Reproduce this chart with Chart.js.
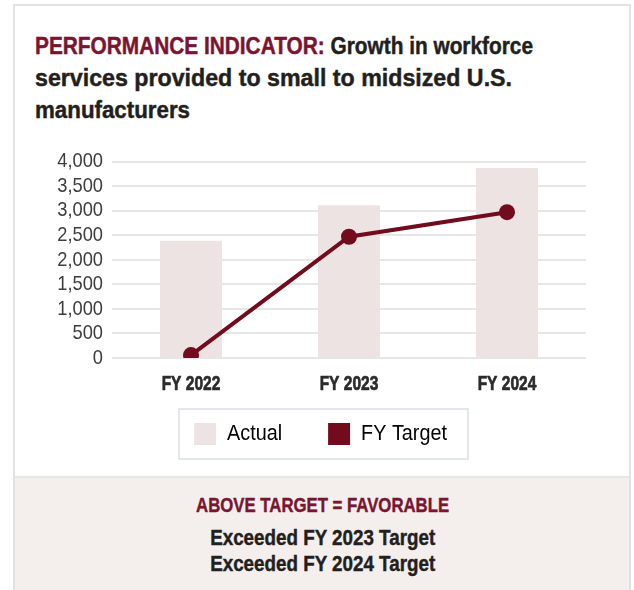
<!DOCTYPE html>
<html>
<head>
<meta charset="utf-8">
<script src="https://cdn.jsdelivr.net/npm/chart.js@4.4.1/dist/chart.umd.min.js"></script>
<style>
  html, body { margin: 0; padding: 0; background: #ffffff; }
  body { width: 634px; height: 590px; position: relative; overflow: hidden;
         font-family: 'Liberation Sans', Arial, sans-serif; }
  #card { position: absolute; left: 13px; top: 4px; width: 614px; height: 600px;
          border: 2px solid #e2e2e2; border-bottom: none; background: #fff; }
  #foot { position: absolute; left: 15px; top: 476px; width: 614px; height: 120px;
          background: #f4efed; border-top: 2px solid #e6e6e6; }
  .t { position: absolute; white-space: nowrap; display: inline-block; font-weight: bold;
       -webkit-text-stroke: 0.45px currentColor; }
  .dark { color: #231f20; }
  .red { color: #7a1530; }
  #wrap { position: absolute; left: 47px; top: 140px; width: 547px; height: 325px; }
</style>
</head>
<body>
<div id="card"></div>
<div id="foot"></div>
<span class="t dark" data-left="35" data-base="55" data-size="23.5" data-w="498"><span class="red">PERFORMANCE INDICATOR:</span> Growth in workforce</span>
<span class="t dark" data-left="35" data-base="87" data-size="23.5" data-w="477">services provided to small to midsized U.S.</span>
<span class="t dark" data-left="35" data-base="119" data-size="23.5" data-w="155">manufacturers</span>
<span class="t red" data-cx="322.5" data-base="512" data-size="21" data-w="253">ABOVE TARGET = FAVORABLE</span>
<span class="t dark" data-cx="322.5" data-base="546" data-size="22" data-w="225">Exceeded FY 2023 Target</span>
<span class="t dark" data-cx="322.5" data-base="572" data-size="22" data-w="225">Exceeded FY 2024 Target</span>
<div id="wrap"><canvas id="c"></canvas></div>
<script>
const categories = ['FY 2022', 'FY 2023', 'FY 2024'];
const actualValues = [2390, 3110, 3870];
const targetValues = [60, 2470, 2970];
const seriesNames = ['Actual', 'FY Target'];
const yTicks = [0, 500, 1000, 1500, 2000, 2500, 3000, 3500, 4000];

const BAR = '#ede3e2';
const MAROON = '#730b1f';
const FONT = "'Liberation Sans', Arial, sans-serif";

// Place HTML text lines by baseline and condense them to the reference width
document.querySelectorAll('.t').forEach(el => {
  const size = parseFloat(el.dataset.size);
  el.style.fontSize = size + 'px';
  el.style.lineHeight = size + 'px';
  el.style.top = (parseFloat(el.dataset.base) - 0.8465 * size) + 'px';
  const natural = el.getBoundingClientRect().width;
  const sx = parseFloat(el.dataset.w) / natural;
  if (el.dataset.left !== undefined) {
    el.style.left = el.dataset.left + 'px';
    el.style.transformOrigin = 'left center';
  } else {
    el.style.left = (parseFloat(el.dataset.cx) - natural / 2) + 'px';
    el.style.transformOrigin = 'center center';
  }
  el.style.transform = 'scaleX(' + sx + ')';
});

// Condensed canvas text (the reference uses a condensed typeface)
const canvas = document.getElementById('c');
const ctx2d = canvas.getContext('2d');
function condense(font) {
  if (/bold|700/.test(font)) return 0.74;
  const m = /([\d.]+)px/.exec(font);
  if (m && parseFloat(m[1]) >= 22) return 0.9;
  return 0.87;
}
const origFill = ctx2d.fillText.bind(ctx2d);
const origStroke = ctx2d.strokeText.bind(ctx2d);
const origMeasure = ctx2d.measureText.bind(ctx2d);
ctx2d.fillText = function (text, x, y, maxWidth) {
  const sx = condense(this.font);
  const bold = /bold|700/.test(this.font);
  this.save();
  this.translate(x, y);
  this.scale(sx, 1);
  if (maxWidth !== undefined) origFill(text, 0, 0, maxWidth / sx); else origFill(text, 0, 0);
  if (bold) {
    this.strokeStyle = this.fillStyle;
    this.lineWidth = 0.7;
    this.lineJoin = 'round';
    origStroke(text, 0, 0);
  }
  this.restore();
};
ctx2d.measureText = function (text) {
  const m = origMeasure(text);
  const sx = condense(this.font);
  return { width: m.width * sx,
           actualBoundingBoxAscent: m.actualBoundingBoxAscent,
           actualBoundingBoxDescent: m.actualBoundingBoxDescent,
           actualBoundingBoxLeft: m.actualBoundingBoxLeft * sx,
           actualBoundingBoxRight: m.actualBoundingBoxRight * sx };
};

const legendBorder = {
  id: 'legendBorder',
  afterDraw(chart) {
    const hb = chart.legend && chart.legend.legendHitBoxes;
    if (!hb || !hb.length) return;
    const first = hb[0], last = hb[hb.length - 1];
    const ctx = chart.ctx;
    const l = first.left - 15, r = last.left + last.width + 21;
    const t = first.top - 14, b = first.top + first.height + 14;
    ctx.save();
    ctx.strokeStyle = '#e4e7ea';
    ctx.lineWidth = 2;
    ctx.strokeRect(l, t, r - l, b - t);
    ctx.restore();
  }
};

new Chart(canvas, {
  data: {
    labels: categories,
    datasets: [
      { type: 'bar', label: seriesNames[0], data: actualValues, backgroundColor: BAR,
        categoryPercentage: 1, barPercentage: 0.393, order: 2 },
      { type: 'line', label: seriesNames[1], data: targetValues, borderColor: MAROON,
        backgroundColor: MAROON, borderWidth: 4, pointRadius: 8, pointHoverRadius: 8,
        pointBackgroundColor: MAROON, pointBorderWidth: 0, tension: 0, order: 1 }
    ]
  },
  options: {
    responsive: true,
    maintainAspectRatio: false,
    animation: false,
    events: [],
    layout: { padding: { top: 17, left: 0, right: 0, bottom: 10 } },
    scales: {
      x: {
        grid: { display: false, drawTicks: false },
        border: { display: false },
        ticks: { color: '#2b2b2b', padding: 14, font: { family: FONT, size: 21, weight: 'bold' } },
        afterFit(s) { s.height = 19; s._computeLabelArea = () => null; }
      },
      y: {
        min: 0, max: 4000,
        afterBuildTicks(s) { s.ticks = yTicks.map(v => ({ value: v })); },
        grid: { color: '#e6e6e6', lineWidth: 2, drawTicks: false },
        border: { display: false },
        ticks: { color: '#3d3d3d', padding: 9, autoSkip: false, font: { family: FONT, size: 21 },
                 callback: v => v.toLocaleString('en-US') },
        afterFit(s) { s.width = 65; }
      }
    },
    plugins: {
      tooltip: { enabled: false },
      legend: {
        position: 'bottom',
        labels: {
          boxWidth: 22, boxHeight: 22, padding: 46, color: '#333',
          font: { family: FONT, size: 22 },
          generateLabels() {
            return [
              { text: seriesNames[0], fillStyle: BAR, strokeStyle: BAR, lineWidth: 0, datasetIndex: 0 },
              { text: seriesNames[1], fillStyle: MAROON, strokeStyle: MAROON, lineWidth: 0, datasetIndex: 1 }
            ];
          }
        }
      }
    }
  },
  plugins: [legendBorder]
});
</script>
</body>
</html>
